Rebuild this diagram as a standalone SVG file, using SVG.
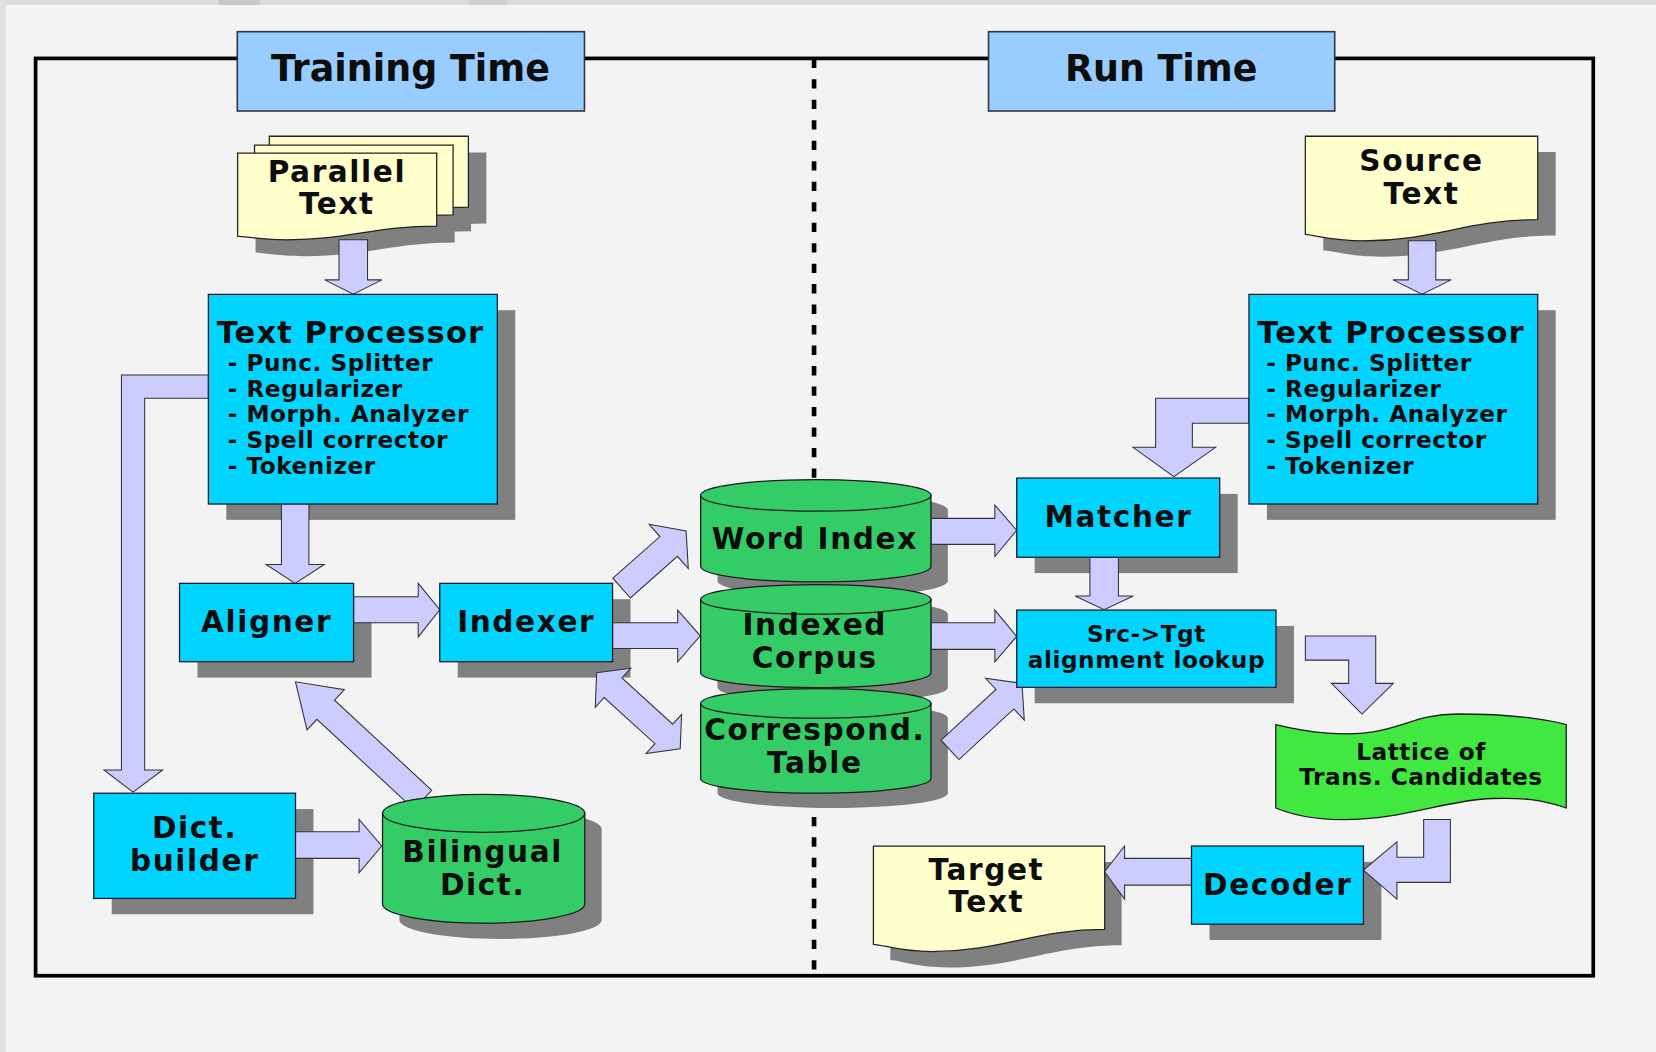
<svg xmlns="http://www.w3.org/2000/svg" width="1656" height="1052" viewBox="0 0 1656 1052">
<style>
.box{fill:#00d4ff;stroke:#1a1a2a;stroke-width:1.2}
.sh{fill:#808080}
.cyl{fill:#33cc66;stroke:#1a1a1a;stroke-width:1.2}
.doc{fill:#ffffcc;stroke:#222;stroke-width:1.2}
.lat{fill:#40e840;stroke:#1a1a1a;stroke-width:1.2}
.hdr{fill:#99ccff;stroke:#333344;stroke-width:1.5}
.arr{fill:#ccccff;stroke:#333;stroke-width:1}
.t{font-family:"DejaVu Sans",Verdana,sans-serif;font-weight:bold;fill:#0d0d0d}
.c{text-anchor:middle}
.s28{font-size:28px;letter-spacing:1.5px}
.s29{font-size:29px;letter-spacing:1px}
.s22{font-size:22px;letter-spacing:0.5px}
.s34{font-size:34.5px}
</style>
<rect width="1656" height="1052" fill="#f3f3f3"/>
<g transform="scale(1.05612 1.05622)">
<rect x="0" y="0" width="1568" height="4.7" fill="#dcdcdc"/>
<rect x="207" y="0" width="39" height="4.7" fill="#c8c8c8"/>
<rect x="444" y="0" width="36" height="4.7" fill="#cfcfcf"/>
<rect x="0" y="0" width="5.7" height="996" fill="#e0e0e0"/>

<g id="frame">
<rect x="33.7" y="55.3" width="1474.9" height="868.5" fill="none" stroke="#000" stroke-width="3.5"/>
<line x1="770.8" y1="55.6" x2="770.8" y2="922" stroke="#000" stroke-width="4.4" stroke-dasharray="8.8 10.6"/>
</g>

<g id="shadows">
<path class="sh" transform="translate(17 15.5)" d="M255,129 H443.5 V196 C387,196 359,209.5 302,209.5 C277.5,209.5 264,206 255,205.5 Z"/>
<path class="sh" transform="translate(17 15.5)" d="M241,137.5 H429 V203.5 C372,203.5 344.5,217 288,217 C263.5,217 250,213.5 241,213 Z"/>
<path class="sh" transform="translate(17 15.5)" d="M225,145 H413.5 V214 C356,214 329,227 272,227 C247.5,227 234,224 225,223.5 Z"/>
<path class="sh" transform="translate(17 15)" d="M1236,129 H1456 V208 C1390,208 1357,228 1291,228 C1262,228 1247,223 1236,222 Z"/>
<path class="sh" transform="translate(16 15)" d="M827,801 H1046 V880 C980,880 947,901 882,901 C853,901 838,895 827,894 Z"/>
<rect class="sh" x="214.3" y="293.7" width="273.6" height="198.5"/>
<rect class="sh" x="1199.6" y="293.7" width="273.4" height="198.5"/>
<rect class="sh" x="187" y="567.3" width="164.8" height="74.2"/>
<rect class="sh" x="433.4" y="567.3" width="163.6" height="74.2"/>
<rect class="sh" x="105.8" y="766" width="191" height="99.6"/>
<rect class="sh" x="979.7" y="467.6" width="192.2" height="75"/>
<rect class="sh" x="979.7" y="592.6" width="245.5" height="73.2"/>
<rect class="sh" x="1145.2" y="816" width="162.8" height="74"/>
<path class="sh" transform="translate(16 14)" d="M663.4,469 A109.05,15 0 0 1 881.5,469 V536 A109.05,15 0 0 1 663.4,536 Z"/>
<path class="sh" transform="translate(16 14)" d="M663.4,567.5 A109.05,14 0 0 1 881.5,567.5 V637 A109.05,14 0 0 1 663.4,637 Z"/>
<path class="sh" transform="translate(16 14)" d="M663.4,666 A109.05,14 0 0 1 881.5,666 V737 A109.05,14 0 0 1 663.4,737 Z"/>
<path class="sh" transform="translate(16 15)" d="M362.2,770 A95.75,18 0 0 1 553.7,770 V856 A95.75,18 0 0 1 362.2,856 Z"/>
</g>

<g id="connectors">
<polygon class="arr" points="321,227 348,227 348,265 361.5,265 334.5,278.5 307.5,265 321,265"/>
<polygon class="arr" points="266.5,477 292.5,477 292.5,534.5 307,534.5 279.5,552.3 252,534.5 266.5,534.5"/>
<polygon class="arr" points="197.3,355 115,355 115,729 98.5,729 126,750 154,729 137,729 137,377 197.3,377"/>
<polygon class="arr" points="334.8,565 396,565 396,552.3 416.4,577.3 396,603 396,589.6 334.8,589.6"/>
<polygon class="arr" points="580,589.6 641.7,589.6 641.7,577.6 663,602 641.7,626.5 641.7,614 580,614"/>
<polygon class="arr" transform="translate(588.6 556.8) rotate(-41.5)" points="0,-12.5 59.5,-12.5 59.5,-28 81.5,0 59.5,28 59.5,12.5 0,12.5"/>
<polygon class="arr" transform="translate(604.5 673) rotate(42.3)" points="-53.5,0 -32.5,-25 -32.5,-12.5 32.5,-12.5 32.5,-25 53.5,0 32.5,25 32.5,12.5 -32.5,12.5 -32.5,25"/>
<polygon class="arr" transform="translate(400.4 757.2) rotate(-137.2)" points="0,-12.3 125.4,-12.3 125.4,-26 164.4,0 125.4,26 125.4,12.3 0,12.3"/>
<polygon class="arr" points="279.8,787.5 340,787.5 340,775.8 361.4,801 340,826.3 340,812.7 279.8,812.7"/>
<polygon class="arr" points="881.5,490.8 942,490.8 942,478.2 962.6,502 942,527 942,515.4 881.5,515.4"/>
<polygon class="arr" points="881.5,589.6 942,589.6 942,577.6 962.6,602.5 942,626.5 942,614.8 881.5,614.8"/>
<polygon class="arr" transform="translate(899.5 710) rotate(-42.7)" points="0,-12.5 70.8,-12.5 70.8,-27 92.8,0 70.8,27 70.8,12.5 0,12.5"/>
<polygon class="arr" points="1333.5,228 1359.5,228 1359.5,265 1374,265 1346.5,278.5 1319,265 1333.5,265"/>
<polygon class="arr" points="1182.6,377 1094.2,377 1094.2,423.5 1072.8,423.5 1111.5,451.3 1151,423.5 1129,423.5 1129,400.8 1182.6,400.8"/>
<polygon class="arr" points="1032,527.7 1059,527.7 1059,564.3 1073,564.3 1045.5,577.3 1018,564.3 1032,564.3"/>
<polygon class="arr" points="1236,602.2 1302.6,602.2 1302.6,647 1319.3,647 1289.6,676 1260.7,647 1277,647 1277,625 1236,625"/>
<polygon class="arr" points="1348,775.8 1373.3,775.8 1373.3,835.4 1322.7,835.4 1322.7,851.2 1291,823.8 1322.7,797 1322.7,811.7 1348,811.7"/>
<polygon class="arr" points="1128.2,812.7 1064.8,812.7 1064.8,801 1045.8,825.3 1064.8,851.2 1064.8,838 1128.2,838"/>
</g>

<g id="training-time">
<rect class="hdr" x="224.7" y="30" width="328.7" height="75.1"/>
<text class="t c s34" x="388.6" y="76.7">Training Time</text>
</g>
<g id="run-time">
<rect class="hdr" x="936" y="30" width="327.8" height="75.1"/>
<text class="t c s34" x="1099.5" y="76.7">Run Time</text>
</g>

<g id="parallel-text">
<path class="doc" d="M255,129 H443.5 V196 C387,196 359,209.5 302,209.5 C277.5,209.5 264,206 255,205.5 Z"/>
<path class="doc" d="M241,137.5 H429 V203.5 C372,203.5 344.5,217 288,217 C263.5,217 250,213.5 241,213 Z"/>
<path class="doc" d="M225,145 H413.5 V214 C356,214 329,227 272,227 C247.5,227 234,224 225,223.5 Z"/>
<text class="t c s28" x="319" y="172">Parallel</text>
<text class="t c s28" x="319" y="202.6">Text</text>
</g>

<g id="text-processor-training">
<rect class="box" x="197.3" y="278.7" width="273.6" height="198.5"/>
<text class="t s29" x="205.2" y="325">Text Processor</text>
<text class="t s22" x="215.6" y="351">- Punc. Splitter</text>
<text class="t s22" x="215.6" y="375.4">- Regularizer</text>
<text class="t s22" x="215.6" y="399.9">- Morph. Analyzer</text>
<text class="t s22" x="215.6" y="424.4">- Spell corrector</text>
<text class="t s22" x="215.6" y="448.8">- Tokenizer</text>
</g>

<g id="aligner">
<rect class="box" x="170" y="552.3" width="164.8" height="74.2"/>
<text class="t c s28" x="252.4" y="598">Aligner</text>
</g>

<g id="indexer">
<rect class="box" x="416.4" y="552.3" width="163.6" height="74.2"/>
<text class="t c s28" x="498.2" y="598">Indexer</text>
</g>

<g id="dict-builder">
<rect class="box" x="88.8" y="751" width="191" height="99.6"/>
<text class="t c s28" x="184.3" y="793.7">Dict.</text>
<text class="t c s28" x="184.3" y="824.4">builder</text>
</g>

<g id="bilingual-dict">
<path class="cyl" d="M362.2,770 L362.2,856 A95.75,18 0 0 0 553.7,856 L553.7,770 Z"/>
<ellipse class="cyl" cx="457.95" cy="770" rx="95.75" ry="18"/>
<text class="t c s28" x="457" y="815.9">Bilingual</text>
<text class="t c s28" x="457" y="847.4">Dict.</text>
</g>

<g id="word-index">
<path class="cyl" d="M663.4,469 L663.4,536 A109.05,15 0 0 0 881.5,536 L881.5,469 Z"/>
<ellipse class="cyl" cx="772.45" cy="469" rx="109.05" ry="15"/>
<text class="t c s28" x="771.5" y="519.8">Word Index</text>
</g>

<g id="indexed-corpus">
<path class="cyl" d="M663.4,567.5 L663.4,637 A109.05,14 0 0 0 881.5,637 L881.5,567.5 Z"/>
<ellipse class="cyl" cx="772.45" cy="567.5" rx="109.05" ry="14"/>
<text class="t c s28" x="771.5" y="601.2">Indexed</text>
<text class="t c s28" x="771.5" y="632.8">Corpus</text>
</g>

<g id="correspond-table">
<path class="cyl" d="M663.4,666 L663.4,737 A109.05,14 0 0 0 881.5,737 L881.5,666 Z"/>
<ellipse class="cyl" cx="772.45" cy="666" rx="109.05" ry="14"/>
<text class="t c s28" x="771.5" y="700.7">Correspond.</text>
<text class="t c s28" x="771.5" y="732.2">Table</text>
</g>

<g id="source-text">
<path class="doc" d="M1236,129 H1456 V208 C1390,208 1357,228 1291,228 C1262,228 1247,223 1236,222 Z"/>
<text class="t c s28" x="1346" y="162">Source</text>
<text class="t c s28" x="1346" y="193.5">Text</text>
</g>

<g id="text-processor-run">
<rect class="box" x="1182.6" y="278.7" width="273.4" height="198.5"/>
<text class="t s29" x="1190.5" y="325">Text Processor</text>
<text class="t s22" x="1199" y="351">- Punc. Splitter</text>
<text class="t s22" x="1199" y="375.4">- Regularizer</text>
<text class="t s22" x="1199" y="399.9">- Morph. Analyzer</text>
<text class="t s22" x="1199" y="424.4">- Spell corrector</text>
<text class="t s22" x="1199" y="448.8">- Tokenizer</text>
</g>

<g id="matcher">
<rect class="box" x="962.7" y="452.6" width="192.2" height="75"/>
<text class="t c s28" x="1059" y="499.3">Matcher</text>
</g>

<g id="alignment-lookup">
<rect class="box" x="962.7" y="577.6" width="245.5" height="73.2"/>
<text class="t c s22" x="1085.5" y="607.5">Src-&gt;Tgt</text>
<text class="t c s22" x="1085.5" y="632.8">alignment lookup</text>
</g>

<g id="lattice">
<path class="lat" d="M1208,686 C1240,694 1275,697 1300,693 C1330,688 1345,676 1380,676 C1430,676 1460,680 1483,686 V765 C1460,757 1440,755 1413,756 C1370,757 1330,776 1272,776 C1240,776 1220,770 1208,765 Z"/>
<text class="t c s22" x="1345.5" y="719.6">Lattice of</text>
<text class="t c s22" x="1345.5" y="743.3">Trans. Candidates</text>
</g>

<g id="decoder">
<rect class="box" x="1128.2" y="801" width="162.8" height="74"/>
<text class="t c s28" x="1209.8" y="847.4">Decoder</text>
</g>

<g id="target-text">
<path class="doc" d="M827,801 H1046 V880 C980,880 947,901 882,901 C853,901 838,895 827,894 Z"/>
<text class="t c s28" x="934" y="833.2">Target</text>
<text class="t c s28" x="934" y="863.8">Text</text>
</g>
</g>
</svg>
